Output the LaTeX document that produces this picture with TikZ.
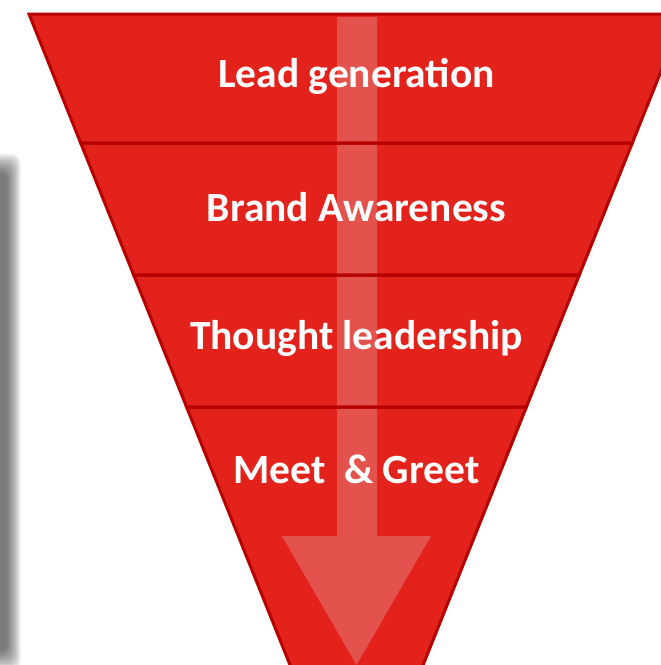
\documentclass[tikz,border=0pt]{standalone}
\usepackage{fontspec}
\setmainfont{Carlito}
\definecolor{funnelred}{RGB}{227,34,27}
\definecolor{edgered}{RGB}{182,0,0}
\definecolor{arrowred}{RGB}{227,82,76}

\begin{document}
\begin{tikzpicture}[x=1pt,y=-1pt,
  band/.style={draw=edgered,line width=3pt,line join=miter},
  label/.style={text=white,font=\bfseries\fontsize{41.5}{48}\selectfont}]
\useasboundingbox (0,0) rectangle (661,665);
\clip (0,0) rectangle (661,665);
\foreach \k in {1,...,10}
  \fill[black,opacity=.07,rounded corners=9pt] (-30,152+2*\k) rectangle (22-1.5*\k,672-2*\k);
\coordinate (l0) at (29,14);   \coordinate (r0) at (684,14);
\coordinate (l1) at (80.7,143);  \coordinate (r1) at (632.3,143);
\coordinate (l2) at (133.7,275); \coordinate (r2) at (579.3,275);
\coordinate (l3) at (186.6,407); \coordinate (r3) at (526.4,407);
\coordinate (tip) at (356.6,831);
\fill[funnelred] (l0) -- (r0) -- (tip) -- cycle;
\fill[arrowred] (337,17) -- (377,17) -- (377,536) -- (431,536) -- (356.5,665)
  -- (282,536) -- (337,536) -- cycle;
\draw[band] (l0) -- (r0) -- (r1) -- (l1) -- cycle;
\draw[band] (l1) -- (r1) -- (r2) -- (l2) -- cycle;
\draw[band] (l2) -- (r2) -- (r3) -- (l3) -- cycle;
\draw[band] (l3) -- (r3) -- (tip) -- cycle;
\node[label] (lead) at (356.5,76) {Lead generation};
\node[label] (brand) at (356.5,207) {Brand Awareness};
\node[label] (thought) at (356.5,338) {Thought leadership};
\node[label] (meet) at (356.5,469) {Meet~~\& Greet};
\end{tikzpicture}
\end{document}
